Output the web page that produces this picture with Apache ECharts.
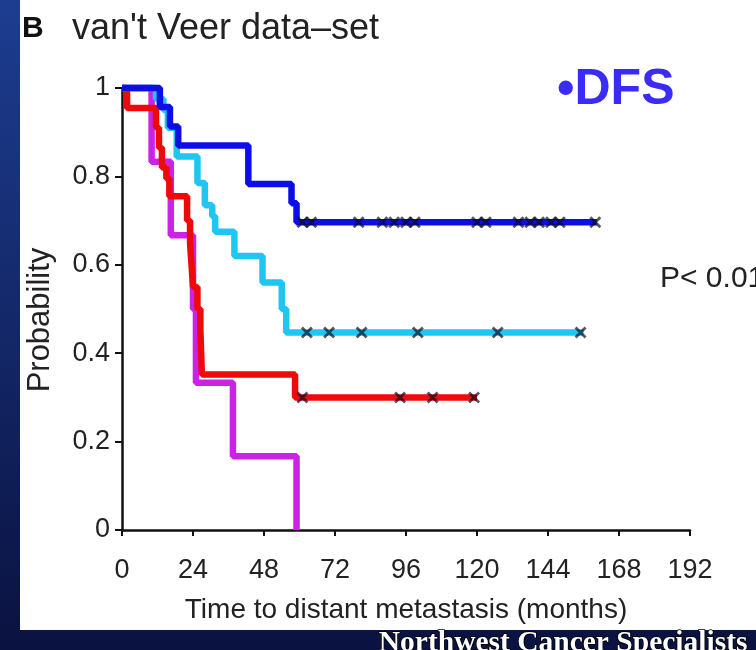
<!DOCTYPE html>
<html>
<head>
<meta charset="utf-8">
<script src="https://cdn.jsdelivr.net/npm/echarts@6/dist/echarts.min.js"></script>
<style>
  html, body { margin: 0; padding: 0; background: #0b1545; }
  #chart { width: 756px; height: 650px; }
</style>
</head>
<body>
<div id="chart"></div>
<script>
// step points (time in months, probability)
const blueTimes = [0, 12.8, 16.2, 19, 42.7, 57.3, 59, 160.5]
const blueProb = [1, 0.957, 0.913, 0.87, 0.783, 0.739, 0.696, 0.696]
const blueCensor = [61, 64, 80, 88, 92, 96, 99, 120, 123, 134, 138, 141, 145, 148, 160]

const cyanTimes = [0, 11.5, 14, 15.5, 18.5, 25.5, 28, 30.5, 31.5, 38, 47.5, 54, 55.5, 156]
const cyanProb = [1, 0.975, 0.95, 0.91, 0.845, 0.785, 0.735, 0.71, 0.675, 0.62, 0.56, 0.5, 0.447, 0.447]
const cyanCensor = [62.5, 70, 81, 100, 127, 155]

const redTimes = [0, 1.7, 11.5, 12.5, 13.5, 15, 16, 22, 23, 23.5, 24, 25.5, 26.5, 27, 58.5, 120]
const redProb = [1, 0.955, 0.91, 0.865, 0.82, 0.795, 0.755, 0.7, 0.65, 0.6, 0.55, 0.5, 0.45, 0.352, 0.3, 0.3]
const redCensor = [61, 94, 105, 119]

const magentaTimes = [0, 10, 16.5, 24, 25, 37.5, 59]
const magentaProb = [1, 0.833, 0.667, 0.5, 0.333, 0.167, 0]

const xTicks = [0, 24, 48, 72, 96, 120, 144, 168, 192]
const yTicks = [0, 0.2, 0.4, 0.6, 0.8, 1]

const FONT = '"Liberation Sans", Arial, sans-serif'
const crossMark = 'path://M0,2L2,0L12,10L10,12Z M10,0L12,2L2,12L0,10Z'

function pairs (xs, ys) {
  return xs.map((x, i) => [x, ys[i]])
}

function stepLine (name, xs, ys, color) {
  return {
    name: name,
    type: 'line',
    step: 'end',
    showSymbol: false,
    clip: false,
    silent: true,
    lineStyle: { color: color, width: 6.5 },
    data: pairs(xs, ys)
  }
}

function censorMarks (times, level) {
  return {
    type: 'scatter',
    symbol: crossMark,
    symbolSize: 12,
    silent: true,
    clip: false,
    z: 5,
    itemStyle: { color: 'rgba(10,10,30,0.85)' },
    data: times.map(t => [t, level])
  }
}

const chart = echarts.init(document.getElementById('chart'))

chart.setOption({
  animation: false,
  backgroundColor: '#0b1545',
  grid: { left: 122, right: 66, top: 88, bottom: 120 },
  xAxis: {
    type: 'value',
    min: xTicks[0],
    max: xTicks[xTicks.length - 1],
    interval: 24,
    name: 'Time to distant metastasis (months)',
    nameLocation: 'middle',
    nameGap: 66,
    nameTextStyle: { fontFamily: FONT, fontSize: 28, color: '#222' },
    axisLine: { lineStyle: { color: '#111', width: 2.5 } },
    axisTick: { length: 6, lineStyle: { color: '#111', width: 2 } },
    axisLabel: { fontFamily: FONT, fontSize: 27, color: '#222', margin: 27 },
    splitLine: { show: false }
  },
  yAxis: {
    type: 'value',
    min: yTicks[0],
    max: yTicks[yTicks.length - 1],
    interval: 0.2,
    name: 'Probability',
    nameLocation: 'middle',
    nameRotate: 90,
    nameGap: 66,
    nameTextStyle: { fontFamily: FONT, fontSize: 31, color: '#222', padding: [0, 22, 0, 0] },
    axisLine: { show: true, lineStyle: { color: '#111', width: 2.5 } },
    axisTick: { show: true, length: 7, lineStyle: { color: '#111', width: 2 } },
    axisLabel: {
      fontFamily: FONT, fontSize: 27, color: '#222', margin: 12,
      formatter: v => (v === 0 || v === 1) ? String(v) : v.toFixed(1)
    },
    splitLine: { show: false }
  },
  graphic: [
    {
      type: 'rect', z: -10, silent: true,
      shape: { x: 0, y: 0, width: 756, height: 650 },
      style: {
        fill: { type: 'linear', x: 0, y: 0, x2: 0, y2: 1,
          colorStops: [{ offset: 0, color: '#1d3d90' }, { offset: 1, color: '#0a1240' }] }
      }
    },
    {
      type: 'rect', z: -9, silent: true,
      shape: { x: 20, y: 0, width: 736, height: 630 },
      style: { fill: '#ffffff' }
    },
    {
      type: 'text', left: 22, top: 14, z: 100,
      style: { text: 'B', font: 'bold 30px ' + FONT, fill: '#111' }
    },
    {
      type: 'text', left: 72, top: 11, z: 100,
      style: { text: 'van\'t Veer data–set', font: '36px ' + FONT, fill: '#222' }
    },
    {
      type: 'text', left: 557, top: 65, z: 100,
      style: { text: '•DFS', font: 'bold 50px ' + FONT, fill: '#3b2bf7' }
    },
    {
      type: 'text', left: 660, top: 264, z: 100,
      style: { text: 'P< 0.01', font: '30px ' + FONT, fill: '#222' }
    },
    {
      type: 'text', left: 378, top: 628, z: 100,
      style: {
        text: 'Northwest Cancer Specialists',
        font: 'bold 29.5px "Liberation Serif", "Times New Roman", serif',
        fill: '#ffffff', stroke: '#000', lineWidth: 1.5
      }
    }
  ],
  series: [
    stepLine('magenta', magentaTimes, magentaProb, '#cc22e8'),
    stepLine('red', redTimes, redProb, '#ee0a0a'),
    stepLine('cyan', cyanTimes, cyanProb, '#20c6f2'),
    stepLine('blue', blueTimes, blueProb, '#0d0de6'),
    censorMarks(redCensor, redProb[redProb.length - 1]),
    censorMarks(cyanCensor, cyanProb[cyanProb.length - 1]),
    censorMarks(blueCensor, blueProb[blueProb.length - 1])
  ]
})
</script>
</body>
</html>
